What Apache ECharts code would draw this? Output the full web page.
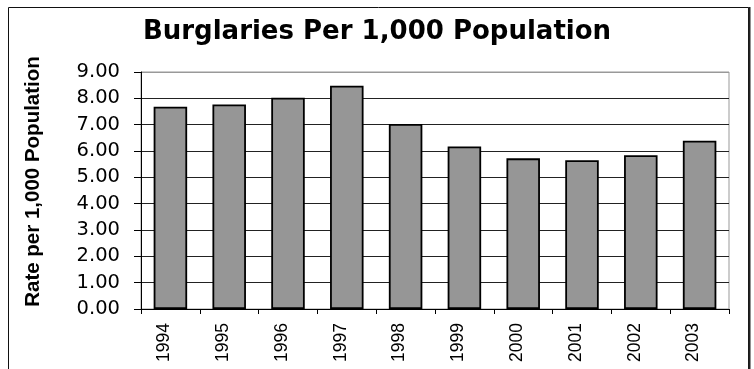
<!DOCTYPE html>
<html>
<head>
<meta charset="utf-8">
<script src="https://cdn.jsdelivr.net/npm/echarts@6/dist/echarts.min.js"></script>
<style>
html,body{margin:0;padding:0;background:#fff;}
#chart{width:754px;height:369px;}
</style>
</head>
<body>
<div id="chart"></div>
<script>
const titleText = 'Burglaries Per 1,000 Population';
const yAxisTitle = 'Rate per 1,000 Population';
const years = ['1994','1995','1996','1997','1998','1999','2000','2001','2002','2003'];
const rates = [7.68, 7.77, 8.02, 8.48, 7.03, 6.17, 5.72, 5.65, 5.84, 6.39];
const yMin = 0, yMax = 9, yStep = 1;

const chart = echarts.init(document.getElementById('chart'), null, {renderer: 'canvas'});
const gridColors = ['#222','#222','#222','#222','#222','#222','#222','#222','#222','#999'];
chart.setOption({
  backgroundColor: '#fff',
  animation: false,
  title: {
    text: titleText,
    left: 'center',
    top: 19,
    padding: 0,
    textStyle: {fontFamily: 'DejaVu Sans', fontWeight: 'bold', fontSize: 26, color: '#000'}
  },
  graphic: [
    {type: 'rect', shape: {x: 8.5, y: 7.5, width: 740, height: 420}, style: {fill: 'none', stroke: '#111', lineWidth: 1}, silent: true},
    {type: 'line', shape: {x1: 749.5, y1: 7, x2: 749.5, y2: 369}, style: {stroke: '#222', lineWidth: 2}, silent: true}
  ],
  grid: {left: 141, right: 25, top: 72, bottom: 60, show: true, borderColor: '#999', borderWidth: 1, backgroundColor: 'transparent'},
  xAxis: {
    type: 'category',
    data: years,
    axisLine: {lineStyle: {color: '#000', width: 1}},
    axisTick: {show: true, length: 5, lineStyle: {color: '#000'}},
    axisLabel: {rotate: 90, margin: 14, color: '#000', fontFamily: 'Arial', fontSize: 17.5, verticalAlign: 'bottom', lineHeight: 12}
  },
  yAxis: {
    type: 'value',
    min: yMin, max: yMax, interval: yStep,
    name: yAxisTitle,
    nameLocation: 'middle',
    nameGap: 97,
    nameRotate: 90,
    nameTextStyle: {fontFamily: 'Arial', fontWeight: 'bold', fontSize: 20.5, color: '#000', padding: [0, 0, 0, 18]},
    axisLine: {show: true, lineStyle: {color: '#000', width: 1}},
    axisTick: {show: true, length: 7, lineStyle: {color: '#000'}},
    axisLabel: {margin: 21, color: '#000', fontFamily: 'DejaVu Sans', fontSize: 19.5, formatter: v => v.toFixed(2)},
    splitLine: {show: true, lineStyle: {color: gridColors, width: 1}}
  },
  series: [{
    type: 'bar',
    data: rates,
    barCategoryGap: '43%',
    itemStyle: {color: '#969696', borderColor: '#000', borderWidth: 1.8}
  }]
});
</script>
</body>
</html>
